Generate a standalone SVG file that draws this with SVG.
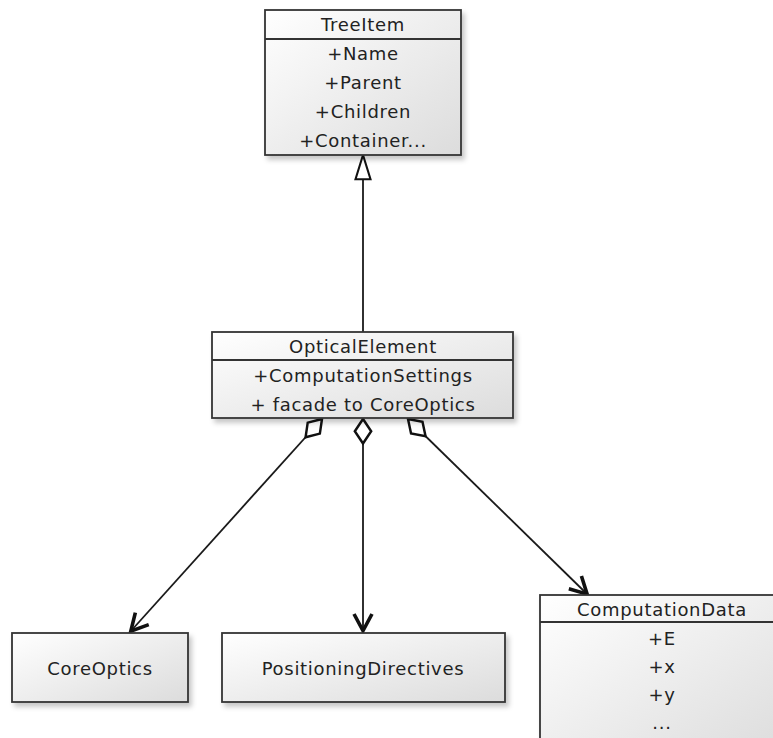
<svg xmlns="http://www.w3.org/2000/svg" width="773" height="738" viewBox="0 0 773 738">
<style>
.box{fill:url(#g);stroke:#333;stroke-width:1.8;filter:url(#sh)}
.div{stroke:#333;stroke-width:1.8}
text{font-family:"DejaVu Sans",Verdana,sans-serif;font-size:18px;fill:#222;text-anchor:middle;letter-spacing:0.7px}
.ln{fill:none;stroke:#1a1a1a;stroke-width:1.8}
</style>
<defs>
<linearGradient id="g" x1="0" y1="0" x2="1" y2="1">
<stop offset="0" stop-color="#ffffff"/>
<stop offset="1" stop-color="#dcdcdc"/>
</linearGradient>
<filter id="sh" x="-10%" y="-10%" width="130%" height="140%">
<feDropShadow dx="3" dy="4" stdDeviation="2.5" flood-color="#000" flood-opacity="0.22"/>
</filter>
<marker id="open" markerUnits="userSpaceOnUse" markerWidth="30" markerHeight="30" viewBox="-20 -10 25 20" refX="0" refY="0" orient="auto" overflow="visible">
<path d="M-15,-7.5 L-1,0 L-15,7.5" fill="none" stroke="#111" stroke-width="3"/>
</marker>
<marker id="dia" markerUnits="userSpaceOnUse" markerWidth="30" markerHeight="30" viewBox="-2 -8 22 16" refX="0" refY="0" orient="auto" overflow="visible">
<path d="M0,0 L9,-6 L18,0 L9,6 Z" fill="#fff" stroke="#111" stroke-width="1.8"/>
</marker>
<marker id="tri" markerUnits="userSpaceOnUse" markerWidth="30" markerHeight="30" viewBox="-24 -8 26 16" refX="0" refY="0" orient="auto" overflow="visible">
<path d="M0,0 L-21,-6.5 L-21,6.5 Z" fill="#fff" stroke="#111" stroke-width="1.8"/>
</marker>
</defs>

<g id="connectors">
<path class="ln" d="M363,332 L363,155" marker-end="url(#tri)"/>
<path class="ln" d="M322,419 L130,632" marker-start="url(#dia)" marker-end="url(#open)"/>
<path class="ln" d="M363,419 L363,632" marker-start="url(#dia)" marker-end="url(#open)"/>
<path class="ln" d="M408,419 L588,595" marker-start="url(#dia)" marker-end="url(#open)"/>
</g>

<g id="TreeItem">
<rect class="box" x="265" y="10" width="196" height="145"/>
<line class="div" x1="265" y1="39" x2="461" y2="39"/>
<text x="363" y="31">TreeItem</text>
<text x="363" y="60">+Name</text>
<text x="363" y="89">+Parent</text>
<text x="363" y="118">+Children</text>
<text x="363" y="147">+Container...</text>
</g>

<g id="OpticalElement">
<rect class="box" x="212" y="332" width="301" height="86"/>
<line class="div" x1="212" y1="360" x2="513" y2="360"/>
<text x="363" y="353">OpticalElement</text>
<text x="363" y="382">+ComputationSettings</text>
<text x="363" y="411">+ facade to CoreOptics</text>
</g>

<g id="CoreOptics">
<rect class="box" x="12" y="633" width="176" height="69"/>
<text x="100" y="675">CoreOptics</text>
</g>

<g id="PositioningDirectives">
<rect class="box" x="222" y="633" width="283" height="69"/>
<text x="363" y="675">PositioningDirectives</text>
</g>

<g id="ComputationData">
<rect class="box" x="540" y="595" width="245" height="160"/>
<line class="div" x1="540" y1="622" x2="785" y2="622"/>
<text x="662" y="616">ComputationData</text>
<text x="662" y="645">+E</text>
<text x="662" y="673">+x</text>
<text x="662" y="701">+y</text>
<text x="662" y="729">...</text>
</g>
</svg>
